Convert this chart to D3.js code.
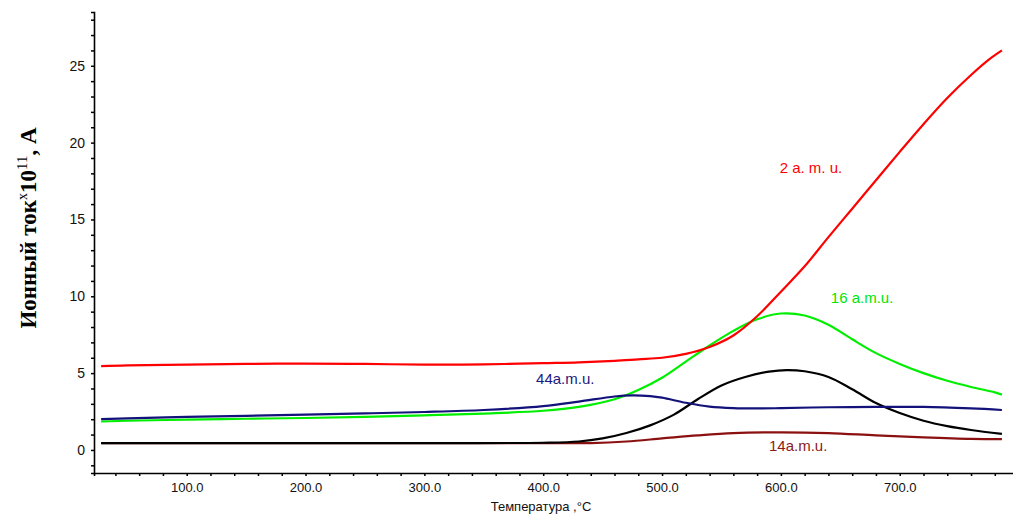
<!DOCTYPE html>
<html>
<head>
<meta charset="utf-8">
<script src="https://cdn.jsdelivr.net/npm/d3@7"></script>
<style>
  html, body { margin: 0; padding: 0; background: #fff; }
  svg { display: block; }
</style>
</head>
<body>
<svg id="chart" width="1013" height="515"></svg>
<script>
// ---- data ----
const tRed = [28, 50, 100, 150, 200, 250, 300, 350, 400, 430, 460, 480, 500, 520, 540, 560, 580, 600, 620, 640, 660, 680, 700, 720, 740, 760, 775, 786];
const vRed = [5.45, 5.5, 5.55, 5.6, 5.62, 5.6, 5.55, 5.57, 5.65, 5.7, 5.8, 5.9, 6.0, 6.25, 6.7, 7.45, 8.7, 10.3, 11.95, 13.85, 15.7, 17.55, 19.4, 21.2, 22.9, 24.4, 25.4, 26.0];

const tGreen = [28, 50, 100, 150, 200, 250, 300, 350, 400, 430, 460, 480, 500, 520, 540, 560, 580, 600, 620, 640, 660, 680, 700, 720, 740, 760, 780, 786];
const vGreen = [1.85, 1.9, 1.97, 2.03, 2.08, 2.15, 2.25, 2.37, 2.55, 2.8, 3.3, 3.9, 4.7, 5.75, 6.8, 7.75, 8.5, 8.88, 8.75, 8.15, 7.2, 6.3, 5.6, 5.0, 4.5, 4.1, 3.75, 3.6];

const tNavy = [28, 50, 100, 150, 200, 250, 300, 350, 400, 430, 460, 475, 490, 500, 520, 540, 560, 580, 600, 640, 680, 720, 760, 786];
const vNavy = [2.0, 2.05, 2.15, 2.22, 2.3, 2.38, 2.47, 2.6, 2.85, 3.15, 3.48, 3.55, 3.5, 3.4, 3.07, 2.82, 2.72, 2.7, 2.72, 2.78, 2.8, 2.8, 2.7, 2.6];

const tBlack = [28, 100, 200, 300, 400, 430, 450, 470, 490, 510, 530, 550, 570, 590, 605, 620, 640, 660, 680, 700, 720, 740, 760, 786];
const vBlack = [0.45, 0.45, 0.45, 0.45, 0.47, 0.55, 0.75, 1.1, 1.6, 2.3, 3.3, 4.2, 4.75, 5.1, 5.2, 5.12, 4.75, 3.95, 3.05, 2.4, 1.9, 1.55, 1.3, 1.05];

const tDark = [28, 100, 200, 300, 400, 440, 470, 500, 530, 560, 600, 640, 680, 720, 760, 786];
const vDark = [0.45, 0.45, 0.45, 0.45, 0.45, 0.45, 0.55, 0.75, 0.95, 1.1, 1.15, 1.1, 0.95, 0.82, 0.72, 0.7];

const xTickValues = [100, 200, 300, 400, 500, 600, 700];
const xTickLabels = ["100.0", "200.0", "300.0", "400.0", "500.0", "600.0", "700.0"];
const yTickValues = [0, 5, 10, 15, 20, 25];
const yTickLabels = ["0", "5", "10", "15", "20", "25"];

const labelTexts = ["2 a. m. u.", "16 a.m.u.", "44a.m.u.", "14a.m.u."];
const labelTemps = [599, 642, 394, 590];
const labelValues = [18.0, 9.55, 4.3, -0.05];
const labelColors = ["#ff0000", "#00e600", "#1a1a80", "#8b1a1a"];

// ---- chart ----
const svg = d3.select("#chart");
const x = d3.scaleLinear().domain([22, 797]).range([94, 1015]);
const y = d3.scaleLinear().domain([-1.5, 28.5]).range([473, 12]);

const tickFont = "'Liberation Sans', Arial, sans-serif";

// axes
const yAxis = d3.axisLeft(y)
  .tickValues(d3.range(-1, 29, 1))
  .tickSize(3)
  .tickFormat(d => { const i = yTickValues.indexOf(d); return i >= 0 ? yTickLabels[i] : ""; });
const gy = svg.append("g").attr("transform", "translate(94,0)").call(yAxis);
gy.select(".domain").attr("stroke", "#000").attr("stroke-width", 1.6);
gy.selectAll(".tick line").attr("stroke", "#000").attr("stroke-width", 1.5);
gy.selectAll(".tick text").attr("font-family", tickFont).attr("font-size", 14).attr("fill", "#111").attr("x", -9);

const xAxis = d3.axisBottom(x)
  .tickValues(d3.range(40, 800, 20))
  .tickSize(3)
  .tickFormat(d => { const i = xTickValues.indexOf(d); return i >= 0 ? xTickLabels[i] : ""; });
const gx = svg.append("g").attr("transform", "translate(0,473)").call(xAxis);
gx.select(".domain").attr("stroke", "#000").attr("stroke-width", 1.6);
gx.selectAll(".tick line").attr("stroke", "#000").attr("stroke-width", 1.5);
gx.selectAll(".tick text").attr("font-family", tickFont).attr("font-size", 13).attr("fill", "#111").attr("y", 10);

// axis titles
const yt = svg.append("text")
  .attr("transform", "translate(36,228) rotate(-90)")
  .attr("text-anchor", "middle")
  .attr("font-family", "'Liberation Serif', 'Times New Roman', serif")
  .attr("font-size", 23)
  .attr("font-weight", "bold")
  .attr("fill", "#000");
yt.append("tspan").text("Ионный ток");
yt.append("tspan").attr("font-size", 14).attr("font-weight", "normal").attr("dy", -9).text("x");
yt.append("tspan").attr("dy", 9).text("10");
yt.append("tspan").attr("font-size", 15).attr("font-weight", "normal").attr("dy", -9).text("11");
yt.append("tspan").attr("dy", 9).text(", А");

svg.append("text")
  .attr("x", 541).attr("y", 511)
  .attr("text-anchor", "middle")
  .attr("font-family", tickFont)
  .attr("font-size", 13)
  .attr("fill", "#111")
  .text("Температура ,°C");

// lines
const line = d3.line().x(d => x(d[0])).y(d => y(d[1])).curve(d3.curveCatmullRom.alpha(0.5));
const series = [
  { t: tDark, v: vDark, color: "#8b1010" },
  { t: tBlack, v: vBlack, color: "#000000" },
  { t: tGreen, v: vGreen, color: "#00ee00" },
  { t: tNavy, v: vNavy, color: "#12127a" },
  { t: tRed, v: vRed, color: "#ff0000" }
];
series.forEach(s => {
  svg.append("path")
    .datum(s.t.map((t, i) => [t, s.v[i]]))
    .attr("fill", "none")
    .attr("stroke", s.color)
    .attr("stroke-width", 2.2)
    .attr("stroke-linejoin", "round")
    .attr("d", line);
});

// labels
labelTexts.forEach((txt, i) => {
  svg.append("text")
    .attr("x", x(labelTemps[i]))
    .attr("y", y(labelValues[i]))
    .attr("font-family", tickFont)
    .attr("font-size", 15)
    .attr("fill", labelColors[i])
    .text(txt);
});
</script>
</body>
</html>
